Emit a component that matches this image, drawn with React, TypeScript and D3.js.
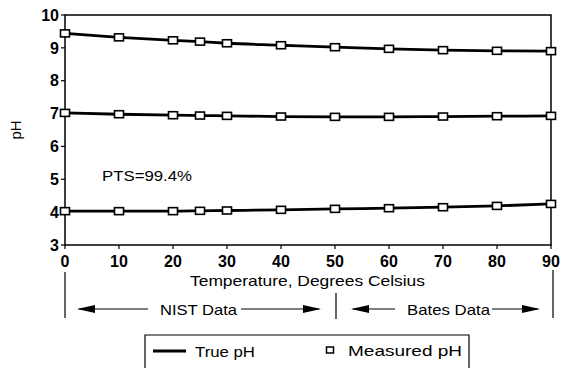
import React from "react";
import * as d3 from "d3";

const temps = [0, 10, 20, 25, 30, 40, 50, 60, 70, 80, 90];
const highPH = [9.44, 9.32, 9.23, 9.19, 9.14, 9.08, 9.02, 8.97, 8.93, 8.91, 8.9];
const midPH = [7.02, 6.98, 6.95, 6.94, 6.93, 6.91, 6.9, 6.9, 6.91, 6.92, 6.93];
const lowPH = [4.03, 4.03, 4.03, 4.04, 4.05, 4.07, 4.1, 4.12, 4.15, 4.19, 4.25];
const series = [highPH, midPH, lowPH];
const xTicks = [0, 10, 20, 30, 40, 50, 60, 70, 80, 90];
const yTicks = [3, 4, 5, 6, 7, 8, 9, 10];

const W = 570, H = 368;
const L = 65, R = 551, T = 15, B = 245;
const FONT = "'Liberation Sans', Arial, Helvetica, sans-serif";

export default function App() {
  const x = d3.scaleLinear().domain([0, 90]).range([L, R]);
  const y = d3.scaleLinear().domain([3, 10]).range([B, T]);
  const line = d3
    .line<number>()
    .x((_, i) => x(temps[i]))
    .y((d) => y(d))
    .curve(d3.curveMonotoneX);

  const nistL = x(0), nistR = x(50), batesR = x(90);
  const arrowY = 309;

  const arrowHead = (tipX: number, dir: number) => {
    const len = 18, half = 4;
    return `M${tipX},${arrowY} L${tipX - dir * len},${arrowY - half} L${tipX - dir * len},${arrowY + half} Z`;
  };

  return (
    <svg
      width={W}
      height={H}
      style={{ position: "absolute", left: 0, top: 0, background: "#fff" }}
      fontFamily={FONT}
    >
      <rect x={0} y={0} width={W} height={H} fill="#fff" />
      {/* frame */}
      <rect x={L} y={T} width={R - L} height={B - T} fill="none" stroke="#000" strokeWidth={1.5} />
      {/* y ticks */}
      {yTicks.map((t) => (
        <g key={"y" + t}>
          <line x1={L - 4} x2={L} y1={y(t)} y2={y(t)} stroke="#000" strokeWidth={1.2} />
          <text x={L - 6} y={y(t)} dy="0.36em" textAnchor="end" fontSize={16} fontWeight="bold">
            {t}
          </text>
        </g>
      ))}
      {/* x ticks */}
      {xTicks.map((t) => (
        <g key={"x" + t}>
          <line x1={x(t)} x2={x(t)} y1={B} y2={B + 4} stroke="#000" strokeWidth={1.2} />
          <text x={x(t)} y={B + 21.5} textAnchor="middle" fontSize={16} fontWeight="bold">
            {t}
          </text>
        </g>
      ))}
      <text
        transform={`translate(21,${130}) rotate(-90)`}
        textAnchor="middle"
        fontSize={15}
      >
        pH
      </text>
      <text x={190} y={285.5} fontSize={15} textLength={235} lengthAdjust="spacingAndGlyphs">
        Temperature, Degrees Celsius
      </text>
      <text x={102} y={181} fontSize={15} textLength={90} lengthAdjust="spacingAndGlyphs">
        PTS=99.4%
      </text>

      {/* series */}
      {series.map((s, k) => (
        <g key={"s" + k}>
          <path d={line(s) || ""} fill="none" stroke="#000" strokeWidth={2.8} />
          {s.map((v, i) => (
            <rect
              key={i}
              x={x(temps[i]) - 4.5}
              y={y(v) - 3.5}
              width={9}
              height={7}
              fill="#fff"
              stroke="#000"
              strokeWidth={1.6}
            />
          ))}
        </g>
      ))}

      {/* range annotations */}
      <line x1={nistL} x2={nistL} y1={272} y2={318} stroke="#000" strokeWidth={1.2} />
      <line x1={nistR + 1} x2={nistR + 1} y1={293} y2={319} stroke="#000" strokeWidth={1.2} />
      <line x1={batesR + 2} x2={batesR + 2} y1={270} y2={318} stroke="#000" strokeWidth={1.2} />

      <line x1={nistL + 14} x2={148} y1={arrowY} y2={arrowY} stroke="#000" strokeWidth={1.2} />
      <path d={arrowHead(nistL + 12, -1)} fill="#000" />
      <text x={160} y={315} fontSize={15} textLength={77} lengthAdjust="spacingAndGlyphs">
        NIST Data
      </text>
      <line x1={241} x2={nistR - 16} y1={arrowY} y2={arrowY} stroke="#000" strokeWidth={1.2} />
      <path d={arrowHead(nistR - 14, 1)} fill="#000" />

      <line x1={nistR + 18} x2={395} y1={arrowY} y2={arrowY} stroke="#000" strokeWidth={1.2} />
      <path d={arrowHead(nistR + 16, -1)} fill="#000" />
      <text x={407} y={315} fontSize={15} textLength={83} lengthAdjust="spacingAndGlyphs">
        Bates Data
      </text>
      <line x1={492} x2={batesR - 13} y1={arrowY} y2={arrowY} stroke="#000" strokeWidth={1.2} />
      <path d={arrowHead(batesR - 11, 1)} fill="#000" />

      {/* legend */}
      <path d="M145,370 L145,335 L469,335 L469,370" fill="none" stroke="#000" strokeWidth={1.2} />
      <line x1={153} x2={186} y1={351} y2={351} stroke="#000" strokeWidth={2.8} />
      <text x={195} y={356.5} fontSize={15} textLength={60} lengthAdjust="spacingAndGlyphs">
        True pH
      </text>
      <rect x={326.5} y={347} width={7} height={6} fill="#fff" stroke="#000" strokeWidth={1.5} />
      <text x={348} y={355.5} fontSize={15} textLength={114} lengthAdjust="spacingAndGlyphs">
        Measured pH
      </text>
    </svg>
  );
}
